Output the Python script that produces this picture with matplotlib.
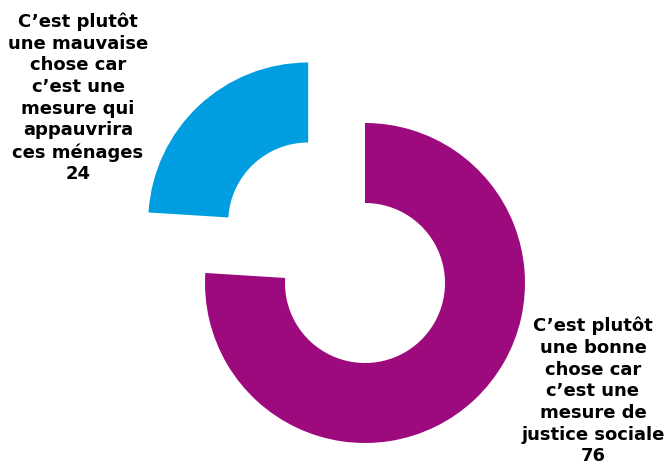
import matplotlib.pyplot as plt

labels = ["C\u2019est plut\u00f4t\nune bonne\nchose car\nc\u2019est une\nmesure de\njustice sociale",
          "C\u2019est plut\u00f4t\nune mauvaise\nchose car\nc\u2019est une\nmesure qui\nappauvrira\nces m\u00e9nages"]
values = [76, 24]
colors = ['#9C0A7D', '#009EE0']

W, H = 668, 468
fig = plt.figure(figsize=(W / 100, H / 100), dpi=100)
ax = fig.add_axes([0, 0, 1, 1])

# pixel geometry (y measured from the bottom)
cx, cy, r = 365, H - 283, 160
ax.pie(values, colors=colors, center=(cx, cy), radius=r, startangle=90,
       counterclock=False, explode=[0, 83],
       wedgeprops=dict(width=80, linewidth=0), frame=True)
ax.set_xlim(0, W)
ax.set_ylim(0, H)
ax.set_aspect('equal')
ax.axis('off')

ax.text(78, H - 98, labels[1] + "\n" + str(values[1]), ha='center', va='center',
        fontsize=13, fontweight='bold', linespacing=1.26)
ax.text(593, H - 391, labels[0] + "\n" + str(values[0]), ha='center', va='center',
        fontsize=13, fontweight='bold', linespacing=1.26)

fig.savefig('out.png', dpi=100)
